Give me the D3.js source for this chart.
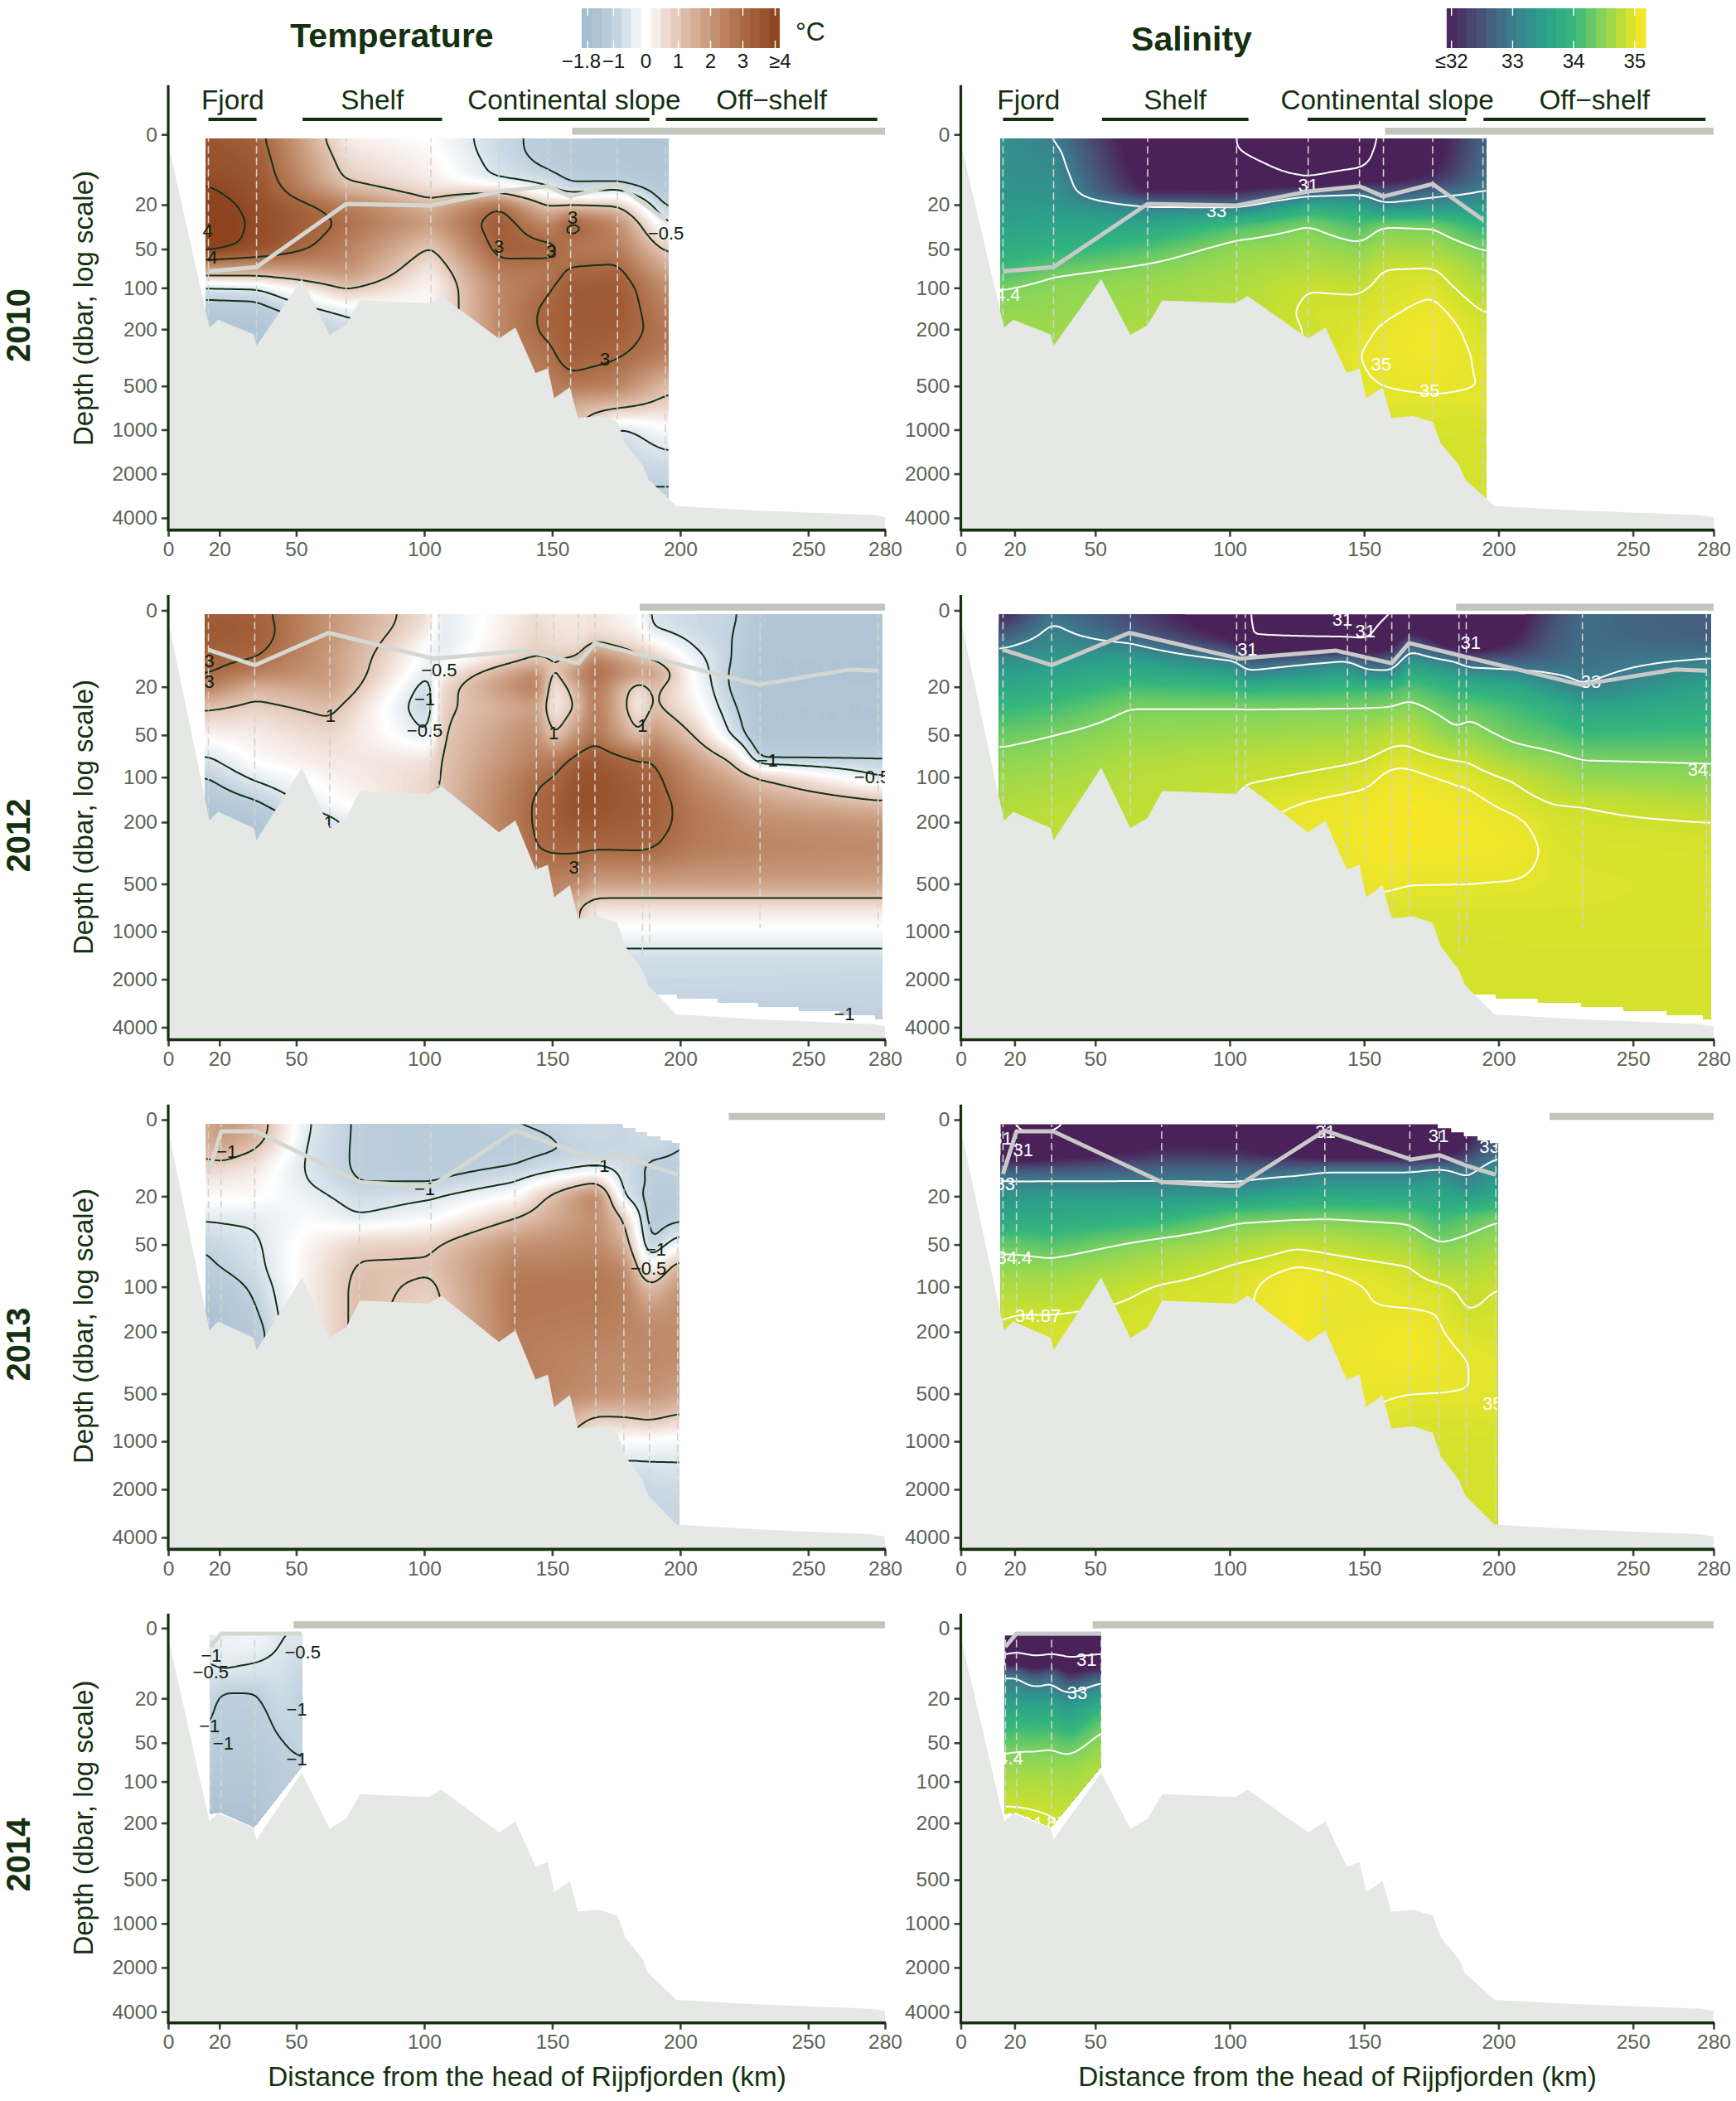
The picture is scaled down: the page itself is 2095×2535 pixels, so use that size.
<!DOCTYPE html>
<html>
<head>
<meta charset="utf-8">
<title>Temperature and salinity sections</title>
<script src="https://cdn.jsdelivr.net/npm/d3@7"></script>
<style>
  body { margin: 0; background: #fff; }
  text { font-family: "Liberation Sans", Arial, sans-serif; }
</style>
</head>
<body>
<svg id="chart" width="2095" height="2535"></svg>
<script>
// ---------- values ----------
let years = ["2010", "2012", "2013", "2014"];
let xTicks = [0, 20, 50, 100, 150, 200, 250, 280];
let depthTicks = [0, 20, 50, 100, 200, 500, 1000, 2000, 4000];

// bottom profile, km and dbar
let bathyKm = [0, 16.1, 19.5, 33.4, 34.5, 52.2, 63.1, 69.5, 74.9, 102, 106.7, 129.2, 135.6, 143.5, 148.3, 150.8, 156.9, 160.1, 168.3, 175.5, 178.5, 185.3, 187.6, 198.5, 229.6, 275, 280];
let bathyDepth = [1.5, 195, 171, 218, 263, 86, 219, 187, 124, 130, 115, 233, 195, 406, 378, 608, 510, 830, 805, 883, 1240, 1750, 2190, 3320, 3560, 3820, 3950];

let regionNames = ["Fjord", "Shelf", "Continental slope", "Off\u2212shelf"];
let regionStart = [15.7, 52.5, 129, 194.4];
let regionEnd = [34.5, 107, 188, 277];
let regionLabelKm = [25.2, 79.7, 158.6, 235.7];

// sea ice bar starts here and runs to 280 km
let iceStart = [157.8, 184.2, 219, 49];

// depth levels of the value columns below
let levels = [1, 3, 6, 10, 15, 20, 30, 50, 75, 100, 150, 200, 300, 500, 700, 1000, 1500, 2000, 3000, 4000];

// stations (dashed lines) and how deep each line goes
let stations2010 = [15.7, 34.5, 69.5, 102.6, 129.2, 148.3, 157.2, 175.5, 194.2];
let stationDepth2010 = [200, 270, 200, 140, 240, 600, 850, 850, 3300];
let stations2012 = [15.7, 33.8, 63.1, 102.6, 105.8, 143.8, 150.6, 160.3, 166.7, 185.3, 188, 231.2, 277.3];
let stationDepth2012 = [200, 260, 190, 140, 130, 420, 380, 830, 830, 1400, 1200, 950, 950];
let stations2013 = [15.7, 20.7, 33.8, 74.7, 102.6, 135.4, 167, 178, 188, 199];
let stationDepth2013 = [200, 200, 270, 125, 125, 195, 780, 1300, 2000, 3200];
let stations2014 = [16.6, 20.7, 33.8, 52.2];
let stationDepth2014 = [180, 170, 220, 85];

// mixed layer line
let mldKm2010 = [15.7, 34.5, 69.5, 102.6, 129.2, 148.3, 157.2, 175.5, 194.2];
let mld2010 = [75, 69.5, 19.6, 20.4, 14.4, 12.5, 16.4, 11.7, 28];
let mldKm2012 = [15.7, 33.8, 62.7, 103.6, 139.4, 160.3, 166.7, 187.6, 230.7, 265.9, 277.3];
let mld2012 = [7.6, 12, 3.8, 10, 7.8, 11.4, 6, 9.5, 19.1, 13.4, 13.8];
let mldKm2013 = [15.7, 20.7, 34.3, 74.7, 102.9, 135.4, 167.6, 178, 188.3, 199];
let mld2013 = [11.8, 1.8, 1.8, 14.5, 16, 1.7, 7.7, 6.6, 9.4, 12];
let mldKm2014 = [16.6, 20.7, 33.8, 52.2];
let mld2014 = [3.4, 0.9, 0.9, 0.9];

// outline of the measured area, km and dbar
let edge2010 = [[14.8, 0.63], [195.4, 0.63], [195.4, 4000], [14.8, 4000]];
let edge2012 = [[14.3, 0.58], [278.9, 0.58], [278.9, 3550], [276.2, 3550], [276.2, 3360], [262.5, 3360], [262.5, 3160], [246.6, 3160], [246.6, 2970], [230.7, 2970], [230.7, 2810], [214.8, 2810], [214.8, 2640], [199, 2640], [199, 2490], [185, 2490], [14.3, 2490]];
let edge2013 = [[14.8, 0.68], [177.4, 0.68], [177.4, 1.3], [182.4, 1.3], [182.4, 2], [187.1, 2], [187.1, 2.7], [192.1, 2.7], [192.1, 3.5], [196.7, 3.5], [196.7, 4], [199.6, 4], [199.6, 4000], [14.8, 4000]];
let edge2014 = [[16.4, 1.2], [52.2, 1.2], [52.2, 77], [33.6, 215], [20.5, 168], [16.4, 172]];

// temperature columns, one list per km position, top to bottom on the levels
let kmT2010 = stations2010;
let temp2010 = [
  [3.6, 3.7, 3.7, 3.9, 4.1, 4.3, 4.4, 4.3, 1.6, -0.7, -1.3, -1.5],
  [3.3, 3.4, 3.5, 3.6, 3.7, 3.8, 3.9, 3.8, 1.6, -0.6, -1.3, -1.5],
  [0.3, 0.5, 0.7, 0.9, 1.6, 2.6, 2.9, 2.5, 2.1, 1.1, -0.4, -0.8],
  [0, 0.1, 0.2, 0.3, 0.7, 1.3, 1.9, 0.9, 0.3, 0.1, 0.1, 0.1],
  [-0.8, -0.8, -0.7, -0.6, 0.9, 3, 3.5, 3.3, 2.6, 2.3, 2.3, 2.3],
  [-1.2, -1.2, -1.1, -0.8, -0.2, 0.9, 2.2, 3.3, 2.6, 2.9, 3.2, 3.2, 2.8, 2.5],
  [-1.2, -1.3, -1.3, -1.1, -0.7, 1, 3.4, 2.6, 3.1, 3.4, 3.4, 3.4, 3.4, 2.7, 1.4],
  [-1.4, -1.4, -1.4, -1.2, -0.3, 0.9, 2.3, 2.6, 3.2, 3.5, 3.5, 3.4, 3.1, 2.5, 1.1, -0.7, -0.9, -1],
  [-1.5, -1.5, -1.5, -1.4, -1.3, -1.1, -0.5, 0.9, 1.7, 2.2, 2.5, 2.7, 2.6, 1.2, 0.7, -0.1, -0.6, -0.9, -1.1, -1.1]
];
let kmT2012 = [15.7, 33.8, 63.1, 102.6, 105.8, 143.8, 150.6, 160.3, 166.7, 185.3, 188, 206, 220, 231.2, 277.3];
let temp2012 = [
  [3.4, 3.5, 3.4, 3.2, 3.05, 2.5, 1.1, 0.2, -0.6, -1, -1.4, -1.5],
  [3.3, 3.4, 3.3, 3, 2.5, 1.4, 0.8, 0.3, 0.1, -0.4, -1.1, -1.5],
  [2, 2, 2, 1.9, 1.9, 1.8, 1.2, 0.7, 0.4, 0.2, -0.1, -0.7],
  [0.5, 0.4, 0, -0.3, -0.5, -0.9, -1.05, -0.5, 0.5, 0.7, 0.8],
  [-0.5, -0.5, -0.5, -0.4, 0.2, 0.6, 0.8, 0.9, 1, 1, 1.1],
  [0.6, 0.7, 0.8, 1, 2.4, 2.7, 1.8, 2.3, 2.5, 2.9, 3.1, 3.1, 3, 2.4],
  [0.4, 0.5, 0.6, 1, 0.7, 0.2, 0.2, 0.8, 2.6, 3, 3.3, 3.3, 3.1, 2.4],
  [0.4, 0.4, 0.5, 1, 2.5, 1.6, 1.1, 2.2, 3.3, 3.7, 3.8, 3.6, 3.1, 2.3, 1],
  [0.5, 0.5, 1, 2.6, 3, 2.8, 2.8, 2.8, 3.5, 3.7, 3.7, 3.5, 3.05, 1.8, 0.5, -0.1, -0.75, -0.8, -1.05],
  [0, 0.1, 0.4, 1.1, 2, 0.3, 0, 0.9, 3, 3.2, 3.4, 3.3, 3.1, 1.8, 0.5, -0.1, -0.75, -0.8, -0.9],
  [-0.6, -0.5, 0.2, 1, 2.2, 1.3, 1.2, 2.2, 3.05, 3.3, 3.4, 3.3, 3.05, 1.8, 0.5, -0.1, -0.75, -0.8, -0.9],
  [-0.8, -0.8, -0.6, -0.3, -0.1, 0, 0.2, 0.9, 1.8, 2.2, 2.6, 2.7, 2.6, 1.8, 0.5, -0.1, -0.75, -0.8, -0.95],
  [-0.9, -0.95, -0.98, -1, -1.1, -1.1, -0.9, -0.6, 0.9, 1.6, 2.2, 2.4, 2.5, 1.8, 0.5, -0.1, -0.75, -0.8, -1],
  [-1.4, -1.4, -1.5, -1.5, -1.5, -1.5, -1.5, -1.5, -1.1, 1, 1.8, 2.2, 2.4, 1.8, 0.5, -0.1, -0.75, -0.8, -1],
  [-1.5, -1.5, -1.5, -1.5, -1.5, -1.5, -1.5, -1.5, -1, -0.5, 1.2, 2, 2.3, 1.8, 0.5, -0.1, -0.75, -0.85, -0.95, -1]
];
let kmT2013 = [15.7, 20.7, 33.8, 55, 74.7, 102.6, 135.4, 167, 178, 188, 199];
let temp2013 = [
  [1.5, 1.6, 1.2, 0.7, 0.3, 0.1, -0.4, -0.95, -1.1, -1.3, -1.6, -1.6],
  [2, 2, 1.4, 0.7, 0.3, 0.1, -0.4, -0.8, -1, -1.3, -1.5, -1.5],
  [1.5, 1.4, 0.9, 0.4, 0.2, 0.1, -0.4, -0.6, -0.7, -0.9, -1.1, -1.3],
  [-0.5, -0.55, -0.6, -0.6, -0.5, -0.3, -0.1, 0.2, 0.3, 0.3],
  [-1.1, -1.1, -1.1, -1.1, -1, -0.75, -0.5, 0.8, 1.1, 1.2, 1.2],
  [-1.2, -1.2, -1.2, -1.2, -1, -0.55, -0.2, 0.9, 1.1, 0.85, 0.7],
  [-1, -1.2, -1.1, -1, -0.45, 0, 0.9, 2.1, 2.5, 2.7, 2.7, 2.6],
  [-0.8, -0.8, -0.95, -0.45, 1.1, 2.6, 2.2, 2.3, 2.6, 2.7, 2.6, 2.5, 2.3, 2.2, 0.95, 0],
  [-0.9, -0.9, -0.8, -0.7, -0.7, -0.6, 0.9, 1.6, 2.4, 2.5, 2.5, 2.4, 2.2, 2.1, 1, -0.1, -0.7, -0.8],
  [-0.7, -0.7, -0.9, -1.1, -1.05, -1.2, -1.3, -1.1, -0.1, 1.1, 2, 2.3, 2.3, 2.1, 1.2, -0.1, -0.65, -0.85, -0.9],
  [-1, -1, -1, -1.1, -1.2, -1.2, -1.2, -0.2, 1.5, 2, 2.2, 2.2, 2.2, 1.8, 0.9, -0.2, -0.6, -0.8, -0.9]
];
let kmT2014 = [16.6, 20.7, 33.8, 45, 52.2];
let temp2014 = [
  [-0.4, -0.4, -0.45, -0.6, -0.7, -0.85, -0.95, -1.1, -1.3, -1.4, -1.6, -1.6],
  [-0.3, -0.3, -0.4, -0.5, -0.9, -1.1, -1.15, -1.2, -1.3, -1.4, -1.5, -1.6],
  [-0.2, -0.2, -0.45, -0.6, -0.95, -1.05, -1.15, -1.2, -1.3, -1.4, -1.5, -1.55],
  [-0.5, -0.55, -0.6, -0.65, -0.7, -0.75, -0.85, -1, -1.1],
  [-0.5, -0.55, -0.8, -0.9, -1, -1.05, -0.95, -0.9, -1.05, -1.2]
];

// salinity columns
let kmS2010 = stations2010;
let sal2010 = [
  [33.3, 33.3, 33.3, 33.3, 33.35, 33.4, 33.5, 33.8, 34.1, 34.4, 34.55, 34.6],
  [33, 33.15, 33.2, 33.3, 33.35, 33.4, 33.6, 33.9, 34.35, 34.5, 34.55, 34.6],
  [31.5, 31.5, 31.6, 31.7, 31.9, 33, 33.6, 34.2, 34.5, 34.6, 34.65, 34.7],
  [31, 31, 31.2, 31.5, 32, 32.8, 34.1, 34.55, 34.65, 34.7, 34.75],
  [30.6, 30.6, 30.7, 30.9, 32.8, 33.7, 34.4, 34.6, 34.75, 34.87, 34.9, 34.88],
  [30.5, 30.6, 30.8, 31.5, 33, 33.6, 34.1, 34.5, 34.7, 34.85, 34.92, 34.96, 35, 34.98],
  [31.2, 31.3, 31.4, 31.7, 32.6, 33, 34.4, 34.65, 34.9, 34.93, 34.97, 35.02, 35.05, 35, 34.97, 34.95],
  [31.7, 31.7, 31.8, 32, 32.9, 33.2, 34.35, 34.65, 34.92, 34.97, 35.05, 35.1, 35.1, 35.02, 34.97, 34.93, 34.92],
  [32.7, 32.75, 32.8, 32.85, 33, 33.4, 33.9, 34.4, 34.6, 34.75, 34.87, 34.92, 34.97, 35, 34.97, 34.92, 34.9, 34.9, 34.9]
];
let kmS2012 = kmT2012;
let sal2012 = [
  [32, 32.4, 32.9, 33.2, 33.5, 33.7, 34, 34.3, 34.5, 34.6, 34.7, 34.75],
  [32.9, 33.1, 33.2, 33.4, 33.6, 33.8, 34.1, 34.4, 34.55, 34.65, 34.75, 34.8],
  [32.4, 32.5, 33, 33.5, 33.8, 34.1, 34.4, 34.55, 34.7, 34.75, 34.8, 34.82],
  [31.4, 31.6, 32, 32.9, 33.6, 34, 34.4, 34.6, 34.75, 34.82, 34.87],
  [31, 31, 31, 32.5, 33.1, 33.9, 34.4, 34.6, 34.78, 34.84, 34.95, 34.98],
  [30.7, 30.8, 31.1, 33, 33.6, 34, 34.4, 34.65, 34.85, 34.92, 35.05, 35.08, 35.05, 35],
  [30.8, 30.8, 31, 32.5, 33.2, 34, 34.4, 34.7, 34.87, 34.95, 35.06, 35.08, 35.1, 35.01],
  [31, 31.3, 31.6, 32.5, 33.1, 34.1, 34.4, 34.8, 34.95, 35.05, 35.12, 35.15, 35.15, 35.02, 34.95, 34.93],
  [31.2, 31.6, 32.8, 33.3, 33.9, 34.2, 34.5, 34.8, 34.97, 35.03, 35.14, 35.15, 35.14, 35, 34.95, 34.93],
  [31, 31, 31.3, 32.9, 33.5, 33.9, 34.2, 34.45, 34.87, 34.97, 35.05, 35.1, 35.1, 35, 34.95, 34.93, 34.9, 34.9, 34.9],
  [31, 31, 31.2, 32.5, 33.4, 33.85, 34.3, 34.55, 34.87, 34.97, 35.05, 35.1, 35.1, 35, 34.95, 34.93, 34.9, 34.9, 34.9],
  [31.7, 31.8, 32, 32.5, 33.2, 33.7, 34.1, 34.3, 34.6, 34.85, 34.95, 35.03, 35.08, 34.99, 34.95, 34.93, 34.92, 34.92, 34.92],
  [32.4, 32.5, 32.6, 32.7, 33, 33.3, 33.9, 34.2, 34.5, 34.7, 34.87, 34.93, 34.96, 34.97, 34.95, 34.93, 34.92, 34.92, 34.92],
  [32.8, 32.8, 32.8, 32.85, 32.9, 33, 33.6, 34.05, 34.4, 34.55, 34.87, 34.9, 34.94, 34.96, 34.95, 34.93, 34.92, 34.92, 34.92],
  [32.6, 32.6, 32.7, 33, 33.3, 33.6, 33.8, 34.1, 34.37, 34.5, 34.75, 34.88, 34.92, 34.94, 34.94, 34.93, 34.92, 34.92, 34.92, 34.92]
];
let kmS2013 = [15.7, 20.7, 33.8, 74.7, 102.6, 125, 135.4, 167, 178, 188, 199];
let sal2013 = [
  [31, 31.2, 31.8, 32.6, 33.1, 33.3, 33.6, 34.3, 34.55, 34.7, 34.85, 34.9],
  [31, 31, 31.1, 32.5, 33.1, 33.4, 33.7, 34.3, 34.55, 34.7, 34.87, 34.92],
  [30.9, 31.1, 31.5, 32.5, 33.1, 33.5, 33.7, 34.2, 34.55, 34.7, 34.87, 34.92],
  [31.8, 31.9, 32, 32.7, 33.05, 33.4, 33.9, 34.55, 34.75, 34.9, 34.92],
  [31.6, 31.8, 32, 32.7, 33, 33.5, 34.3, 34.7, 34.92, 34.95, 34.97],
  [31.3, 31.4, 31.6, 32.7, 33.3, 33.7, 34.35, 34.85, 35.02, 35.1, 35.1, 35.1],
  [31, 31, 31.3, 32.9, 33.4, 33.7, 34.38, 34.8, 35, 35.05, 35, 35.01, 35.04],
  [31.2, 31.2, 31.3, 32.9, 33.4, 33.7, 34.3, 34.65, 34.9, 34.95, 35.01, 35.1, 35.1, 35, 34.95, 34.92],
  [31, 31, 31.4, 33.1, 33.5, 33.7, 34, 34.43, 34.7, 34.92, 35, 35.01, 35.05, 35, 34.95, 34.92, 34.92],
  [31.8, 31.8, 32.2, 32.8, 33.1, 33.5, 34.2, 34.5, 34.7, 34.82, 34.87, 34.95, 35, 35, 34.95, 34.92, 34.91, 34.91],
  [32.5, 32.6, 32.8, 33.3, 33.5, 33.7, 34.35, 34.6, 34.78, 34.87, 34.9, 34.93, 34.98, 35, 34.95, 34.92, 34.9, 34.9, 34.9]
];
let kmS2014 = [16.6, 20.7, 28, 33.8, 40, 52.2];
let sal2014 = [
  [30.8, 30.8, 30.9, 33, 33.1, 33.4, 33.8, 34.25, 34.55, 34.7, 34.87, 34.95],
  [30.7, 30.8, 31.1, 33, 33.2, 33.4, 33.9, 34.3, 34.55, 34.7, 34.87, 34.95],
  [30.6, 30.7, 30.9, 32.3, 33, 33.4, 33.8, 34.3, 34.55, 34.7, 34.85, 34.92],
  [30.7, 30.8, 31, 33, 33.05, 33.5, 33.9, 34.35, 34.55, 34.7, 34.83, 34.9],
  [30.6, 30.7, 30.9, 31.9, 32.7, 33.2, 33.6, 34.2, 34.55, 34.65, 34.8],
  [30.7, 30.8, 31, 32.5, 33.2, 33.6, 34.2, 34.55, 34.7, 34.8]
];

// contour levels and their printed labels: text, km, dbar
let tempLevels = [-1, -0.5, 1, 3, 4];
let salLevels = [31, 33, 34.4, 34.87, 35];
let tempLabels2010 = [["4", 15.4, 34.6], ["4", 17.3, 58], ["3", 129.2, 47.4], ["3", 158, 26.6], ["3", 149.7, 52.4], ["3", 170.6, 326], ["\u22120.5", 194.4, 36.6]];
let tempLabels2012 = [["3", 16.1, 10.5], ["3", 16.1, 17.8], ["1", 63.4, 35], ["\u22120.5", 105.8, 13.6], ["\u22121", 100.2, 25.5], ["\u22120.5", 100.2, 46], ["1", 150.6, 48], ["1", 185.3, 42], ["3", 158.5, 389], ["\u22121", 234.1, 76], ["\u22120.5", 275, 99], ["\u22121", 264.1, 3270], ["1", 62.7, 201]];
let tempLabels2013 = [["\u22121", 22.9, 5.7], ["\u22121", 100.2, 17], ["\u22121", 168.3, 9.2], ["\u22120.5", 187.6, 74], ["\u22121", 190.5, 54]];
let tempLabels2014 = [["\u22120.5", 16.6, 9.9], ["\u22120.5", 52.5, 4.5], ["\u22121", 16.8, 5.3], ["\u22121", 50.2, 25.4], ["\u22121", 16.1, 36], ["\u22121", 21.5, 50], ["\u22121", 50.2, 67]];
let salLabels2010 = [["31", 129.2, 12], ["33", 95.1, 22.7], ["34.4", 15.6, 112], ["35", 156.3, 350], ["35", 174.4, 540]];
let salLabels2012 = [["31", 106.6, 7.5], ["31", 141.9, 1.4], ["31", 150.5, 3.4], ["31", 189.6, 5.8], ["33", 234.4, 17.6], ["34.4", 277, 88]];
let salLabels2013 = [["31", 15.4, 3], ["31", 23.2, 5.3], ["33", 16.4, 15.1], ["34.4", 19.9, 62], ["34.87", 28.7, 155], ["31", 135.6, 1.8], ["31", 177.7, 2.6], ["33", 196.6, 4.6], ["35", 197.8, 575]];
let salLabels2014 = [["31", 46.8, 6.3], ["33", 43.3, 17.2], ["34.4", 16.6, 66], ["34.87", 31, 200]];

// legends
let tempLegendTicks = [-1.8, -1, 1, 2, 3, 4];
let tempLegendLabels = ["\u22121.8", "\u22121", "0", "1", "2", "3", "\u22654"];
let tempLegendLabelAt = [-2, -1, 0, 1, 2, 3, 4.15];
let salLegendTicks = [32, 33, 34, 35];
let salLegendLabels = ["\u226432", "33", "34", "35"];

let tempStops = [-2, -1, 0, 1, 2, 3, 4.13];
let tempColors = ["#9fbacd", "#bfd0de", "#ffffff", "#e3c6b6", "#c69677", "#ab6a45", "#8c431e"];
let salStops = [31.92, 32.5, 33, 33.5, 34, 34.5, 34.87, 35, 35.18];
let salColors = ["#4a2259", "#47547b", "#3c7d8d", "#2c9f8b", "#34b67d", "#8dd656", "#cbe02f", "#e6e52c", "#fde725"];

// ---------- layout ----------
let rowZero = [162.2, 736.5, 1351, 1964.4];
let row4000 = [624.9, 1239.5, 1855, 2427.3];
let rowBottom = [639.6, 1254.5, 1869.4, 2440.7];
let rowTop = [102.8, 718, 1332.8, 1947];
let yearY = [392.5, 1008, 1622, 2238];
let titleY = [372, 986, 1600, 2193.6];
let leftX = [203, 1068];
let rightX = [1159.5, 2068];
let cell = 3; // grid size of the colour field in px

let ink = "#14300f";
let tickInk = "#5a6356";
let bathyFill = "#e6e8e5";
let iceFill = "#c1c6bc";

let tempColor = d3.scaleLinear().domain(tempStops).range(tempColors).clamp(true);
let salColor = d3.scaleLinear().domain(salStops).range(salColors).clamp(true);

let svg = d3.select("#chart");
let defs = svg.append("defs");

/**
 * Grid of field values over the panel: linear between the read columns,
 * in km and log depth, then blurred a bit to look like the gridded original.
 */
function buildGrid(kms, columns, x, yLog, box) {
  let nx = Math.ceil((box.x1 - box.x0) / cell);
  let ny = Math.ceil((box.y1 - box.y0) / cell);
  let logLevels = levels.map(d => Math.log(d + 10));
  let pick = (col, i) => col[Math.min(i, col.length - 1)];
  let bisectKm = d3.bisector(d => d).left;
  let bisectLog = d3.bisector(d => d).left;
  let values = new Float64Array(nx * ny);
  for (let j = 0; j < ny; j++) {
    let l = Math.log(yLog.invert(box.y0 + (j + 0.5) * cell));
    let b = Math.max(1, Math.min(levels.length - 1, bisectLog(logLevels, l)));
    let v = Math.max(0, Math.min(1, (l - logLevels[b - 1]) / (logLevels[b] - logLevels[b - 1])));
    for (let i = 0; i < nx; i++) {
      let km = x.invert(box.x0 + (i + 0.5) * cell);
      let a = Math.max(1, Math.min(kms.length - 1, bisectKm(kms, km)));
      let u = Math.max(0, Math.min(1, (km - kms[a - 1]) / (kms[a] - kms[a - 1])));
      let c0 = pick(columns[a - 1], b - 1) * (1 - v) + pick(columns[a - 1], b) * v;
      let c1 = pick(columns[a], b - 1) * (1 - v) + pick(columns[a], b) * v;
      values[j * nx + i] = c0 * (1 - u) + c1 * u;
    }
  }
  if (d3.blur2) d3.blur2({data: values, width: nx, height: ny}, 1.6);
  return {values, nx, ny};
}

function drawPanel(opt) {
  let {row, xRange, kms, columns, contourLevels, labels, color, shadeFrom, shadeTo, shadeStep, lineColor, labelColor, mixedColor, stations, stationDepth, mixedKm, mixedDepth, edge} = opt;
  let x = d3.scaleLinear().domain([0, 280]).range(xRange);
  let yLog = d3.scaleLog().domain([10, 4010]).range([rowZero[row], row4000[row]]);
  let y = d => yLog(d + 10);
  let id = (opt.prefix + row);
  let g = svg.append("g");

  defs.append("clipPath").attr("id", "edge" + id)
    .append("path").attr("d", d3.line().x(d => x(d[0])).y(d => y(d[1]))(edge) + "Z");
  defs.append("clipPath").attr("id", "panel" + id)
    .append("rect")
    .attr("x", xRange[0]).attr("y", rowTop[row])
    .attr("width", (opt.labelRight ? x(opt.labelRight) : xRange[1]) - xRange[0])
    .attr("height", rowBottom[row] - rowTop[row]);

  // colour field
  let kmMin = d3.min(edge, d => d[0]);
  let kmMax = d3.max(edge, d => d[0]);
  let box = {x0: x(kmMin) - 12, x1: x(kmMax) + 12, y0: rowZero[row] - 12, y1: row4000[row] + 12};
  let grid = buildGrid(kms, columns, x, yLog, box);
  let path = d3.geoPath(d3.geoTransform({
    point(px, py) { this.stream.point(box.x0 + px * cell, box.y0 + py * cell); }
  }));
  let contours = d3.contours().size([grid.nx, grid.ny]);
  let field = g.append("g").attr("clip-path", "url(#edge" + id + ")");
  field.append("rect")
    .attr("x", box.x0).attr("y", box.y0)
    .attr("width", box.x1 - box.x0).attr("height", box.y1 - box.y0)
    .attr("fill", color(shadeFrom));
  field.append("g").selectAll("path")
    .data(contours.thresholds(d3.range(shadeFrom, shadeTo, shadeStep))(grid.values))
    .join("path")
    .attr("d", path)
    .attr("fill", d => color(d.value + shadeStep / 2));

  // contour lines
  field.append("g").selectAll("path")
    .data(contours.thresholds(contourLevels)(grid.values))
    .join("path")
    .attr("d", path)
    .attr("fill", "none")
    .attr("stroke", lineColor)
    .attr("stroke-width", 2);

  // station lines
  field.append("g").selectAll("line")
    .data(stations)
    .join("line")
    .attr("x1", d => x(d)).attr("x2", d => x(d))
    .attr("y1", rowZero[row])
    .attr("y2", (d, i) => y(stationDepth[i]))
    .attr("stroke", "#d2d4ce")
    .attr("stroke-width", 1.6)
    .attr("stroke-dasharray", "9 5");

  // contour labels
  g.append("g").attr("clip-path", "url(#panel" + id + ")")
    .selectAll("text")
    .data(labels)
    .join("text")
    .attr("x", d => x(d[1])).attr("y", d => y(d[2]))
    .attr("dy", "0.36em")
    .attr("text-anchor", "middle")
    .attr("font-size", 22)
    .attr("fill", labelColor)
    .text(d => d[0]);

  // mixed layer line
  g.append("path")
    .datum(d3.zip(mixedKm, mixedDepth))
    .attr("d", d3.line().x(d => x(d[0])).y(d => y(d[1])))
    .attr("fill", "none")
    .attr("stroke", mixedColor)
    .attr("stroke-width", 5)
    .attr("stroke-linejoin", "round");

  // bottom
  let bathy = d3.zip(bathyKm, bathyDepth);
  g.append("path")
    .datum(bathy)
    .attr("d", d3.area().x(d => x(d[0])).y0(rowBottom[row]).y1(d => y(d[1])))
    .attr("fill", bathyFill);

  // sea ice bar
  g.append("rect")
    .attr("x", x(iceStart[row])).attr("width", xRange[1] - x(iceStart[row]))
    .attr("y", rowZero[row] - 8.2).attr("height", 8.5)
    .attr("fill", iceFill);

  // axes
  let xAxis = d3.axisBottom(x).tickValues(xTicks).tickSize(8).tickPadding(6).tickFormat(d3.format("d"));
  let yAxis = d3.axisLeft(yLog).tickValues(depthTicks.map(d => d + 10)).tickSize(8).tickPadding(5).tickFormat(d => Math.round(d - 10));
  let gx = g.append("g").attr("transform", "translate(0," + rowBottom[row] + ")").call(xAxis);
  let gy = g.append("g").attr("transform", "translate(" + xRange[0] + ",0)").call(yAxis);
  for (let a of [gx, gy]) {
    a.select(".domain").remove();
    a.selectAll("line").attr("stroke", "#39463a").attr("stroke-width", 2.6);
    a.selectAll("text").attr("font-size", 24.5).attr("fill", tickInk).attr("font-family", null);
  }
  g.append("line")
    .attr("x1", xRange[0]).attr("x2", xRange[0])
    .attr("y1", rowTop[row]).attr("y2", rowBottom[row] + 1.5)
    .attr("stroke", ink).attr("stroke-width", 3.2);
  g.append("line")
    .attr("x1", xRange[0]).attr("x2", xRange[1] + 1)
    .attr("y1", rowBottom[row]).attr("y2", rowBottom[row])
    .attr("stroke", ink).attr("stroke-width", 3.6);

  // region names only on the top row
  if (row === 0) {
    g.append("g").selectAll("line")
      .data(regionNames)
      .join("line")
      .attr("x1", (d, i) => x(regionStart[i]))
      .attr("x2", (d, i) => x(regionEnd[i]))
      .attr("y1", 144).attr("y2", 144)
      .attr("stroke", ink).attr("stroke-width", 4);
    g.append("g").selectAll("text")
      .data(regionNames)
      .join("text")
      .attr("x", (d, i) => x(regionLabelKm[i]))
      .attr("y", 120)
      .attr("dy", "0.36em")
      .attr("text-anchor", "middle")
      .attr("font-size", 33.3)
      .attr("fill", ink)
      .text(d => d);
  }

  return x;
}

let tempColumns = [temp2010, temp2012, temp2013, temp2014];
let tempKm = [kmT2010, kmT2012, kmT2013, kmT2014];
let tempLabelSets = [tempLabels2010, tempLabels2012, tempLabels2013, tempLabels2014];
let salColumns = [sal2010, sal2012, sal2013, sal2014];
let salKm = [kmS2010, kmS2012, kmS2013, kmS2014];
let salLabelSets = [salLabels2010, salLabels2012, salLabels2013, salLabels2014];
let stationSets = [stations2010, stations2012, stations2013, stations2014];
let stationDepths = [stationDepth2010, stationDepth2012, stationDepth2013, stationDepth2014];
let mixedKms = [mldKm2010, mldKm2012, mldKm2013, mldKm2014];
let mixedDepths = [mld2010, mld2012, mld2013, mld2014];
let edges = [edge2010, edge2012, edge2013, edge2014];

years.forEach((year, row) => {
  let shared = {
    row,
    stations: stationSets[row],
    stationDepth: stationDepths[row],
    mixedKm: mixedKms[row],
    mixedDepth: mixedDepths[row],
    edge: edges[row]
  };
  drawPanel(Object.assign({}, shared, {
    prefix: "t",
    xRange: leftX,
    kms: tempKm[row],
    columns: tempColumns[row],
    contourLevels: tempLevels,
    labels: tempLabelSets[row],
    color: tempColor,
    shadeFrom: -2,
    shadeTo: 4.2,
    shadeStep: 0.05,
    lineColor: "#12301a",
    labelColor: "#10200f",
    mixedColor: "#d5d8d1"
  }));
  drawPanel(Object.assign({}, shared, {
    prefix: "s",
    xRange: rightX,
    kms: salKm[row],
    columns: salColumns[row],
    contourLevels: salLevels,
    labels: salLabelSets[row],
    color: salColor,
    shadeFrom: 31.9,
    shadeTo: 35.2,
    shadeStep: 0.025,
    lineColor: "#ffffff",
    labelColor: "#ffffff",
    mixedColor: "#c9c9c9",
    labelRight: d3.max(edges[row], d => d[0])
  }));

  // year and depth title
  svg.append("text")
    .attr("transform", "translate(36," + yearY[row] + ") rotate(-90)")
    .attr("text-anchor", "middle")
    .attr("font-size", 40)
    .attr("font-weight", "bold")
    .attr("fill", ink)
    .text(year);
  svg.append("text")
    .attr("transform", "translate(112," + titleY[row] + ") rotate(-90)")
    .attr("text-anchor", "middle")
    .attr("font-size", 33)
    .attr("fill", ink)
    .text("Depth (dbar, log scale)");
});

// x axis titles
for (let cx of [636, 1614]) {
  svg.append("text")
    .attr("x", cx).attr("y", 2517)
    .attr("text-anchor", "middle")
    .attr("font-size", 33.3)
    .attr("fill", ink)
    .text("Distance from the head of Rijpfjorden (km)");
}

// column titles
svg.append("text").attr("x", 473).attr("y", 57).attr("text-anchor", "middle")
  .attr("font-size", 41).attr("font-weight", "bold").attr("fill", ink).text("Temperature");
svg.append("text").attr("x", 1438).attr("y", 61).attr("text-anchor", "middle")
  .attr("font-size", 41).attr("font-weight", "bold").attr("fill", ink).text("Salinity");
svg.append("text").attr("x", 978).attr("y", 49).attr("text-anchor", "middle")
  .attr("font-size", 32).attr("fill", ink).text("\u00b0C");

/** Stepped colour legend with small white ticks. */
function drawLegend(scaleX, from, to, color, ticks, labelText, labelAt) {
  let bands = 20;
  let step = (to - from) / bands;
  let lg = svg.append("g");
  lg.selectAll("rect")
    .data(d3.range(bands))
    .join("rect")
    .attr("x", i => scaleX(from + i * step))
    .attr("width", scaleX(from + step) - scaleX(from) + 0.4)
    .attr("y", 10).attr("height", 48)
    .attr("fill", i => color(from + (i + 0.5) * step));
  for (let [y1, y2] of [[10, 19], [49, 58]]) {
    lg.append("g").selectAll("line")
      .data(ticks)
      .join("line")
      .attr("x1", d => scaleX(d)).attr("x2", d => scaleX(d))
      .attr("y1", y1).attr("y2", y2)
      .attr("stroke", "#fff").attr("stroke-width", 1.4);
  }
  lg.append("g").selectAll("text")
    .data(labelText)
    .join("text")
    .attr("x", (d, i) => scaleX(labelAt[i]))
    .attr("y", 81.5)
    .attr("text-anchor", "middle")
    .attr("font-size", 24)
    .attr("fill", "#10200f")
    .text(d => d);
}

drawLegend(d3.scaleLinear().domain([0, 1]).range([779.5, 818.5]), -1.987, 4.13, tempColor, tempLegendTicks, tempLegendLabels, tempLegendLabelAt);
drawLegend(d3.scaleLinear().domain([32, 33]).range([1751.7, 1825.4]), 31.92, 35.18, salColor, salLegendTicks, salLegendLabels, salLegendTicks);
</script>
</body>
</html>
